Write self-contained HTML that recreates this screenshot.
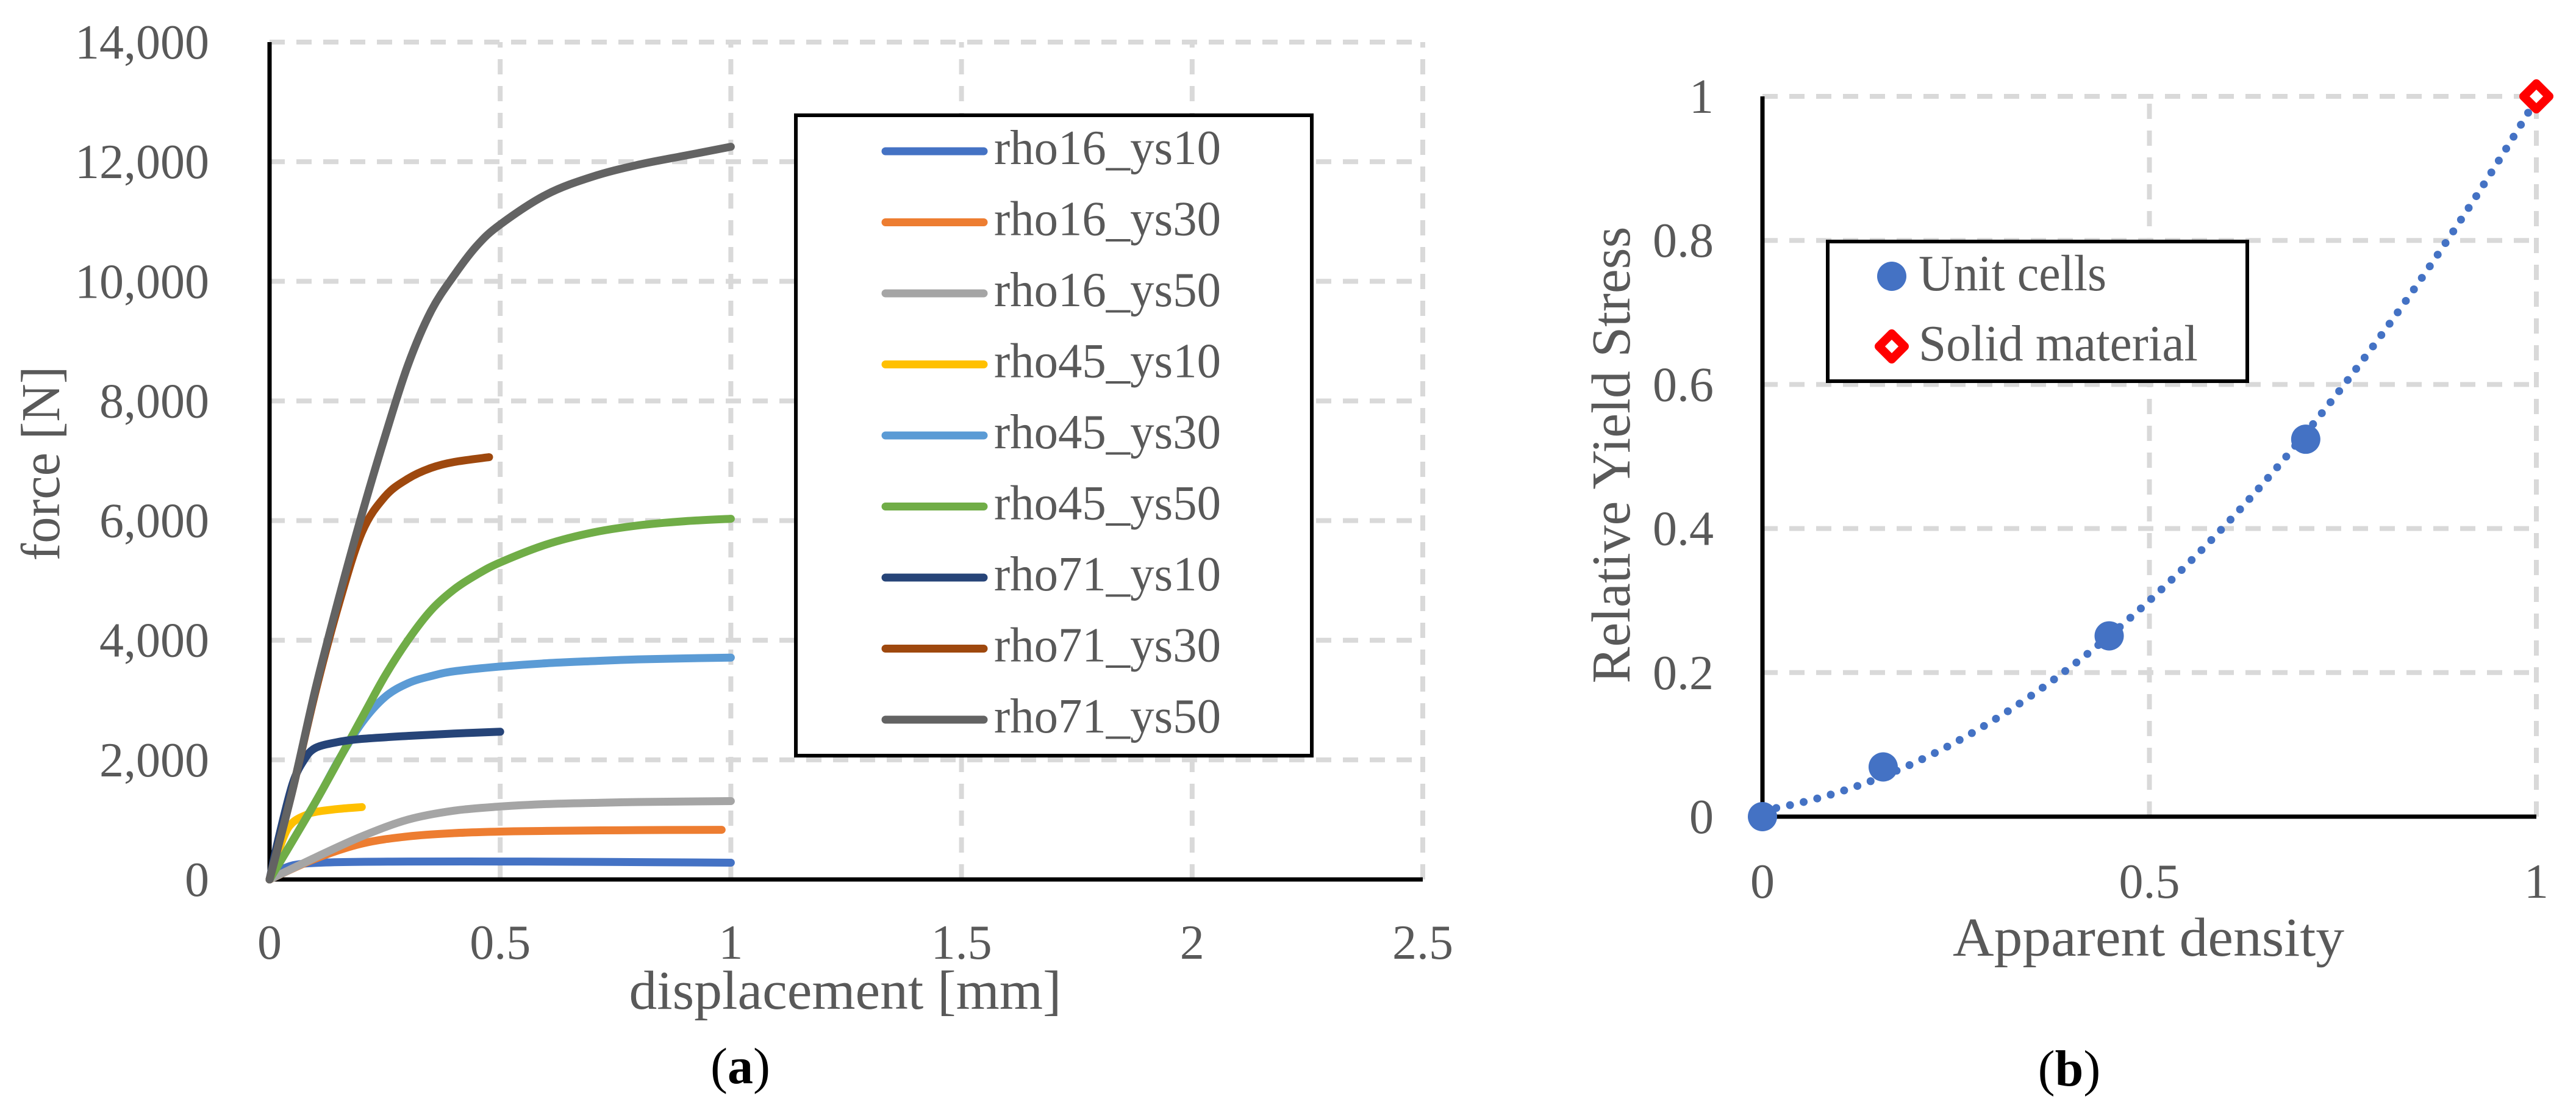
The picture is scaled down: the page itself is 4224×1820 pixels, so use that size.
<!DOCTYPE html>
<html><head><meta charset="utf-8"><style>
html,body{margin:0;padding:0;background:#fff;}
svg{display:block;}
text{font-family:"Liberation Serif",serif;fill:#595959;}
</style></head><body>
<svg id="fig" width="4224" height="1820" viewBox="0 0 4224 1820" xmlns="http://www.w3.org/2000/svg">
<g id="chartA"></g>
<g id="chartB"></g>
</svg>
<script>
// ---- Chart A data ----
const aXTicks = [0, 0.5, 1, 1.5, 2, 2.5];
const aXTickLabels = ["0", "0.5", "1", "1.5", "2", "2.5"];
const aYTicks = [0, 2000, 4000, 6000, 8000, 10000, 12000, 14000];
const aYTickLabels = ["0", "2,000", "4,000", "6,000", "8,000", "10,000", "12,000", "14,000"];
const seriesNames = ["rho16_ys10","rho16_ys30","rho16_ys50","rho45_ys10","rho45_ys30","rho45_ys50","rho71_ys10","rho71_ys30","rho71_ys50"];
const seriesColors = ["#4472c4","#ed7d31","#a5a5a5","#ffc000","#5b9bd5","#70ad47","#264478","#9e480e","#636363"];
const rho16_ys10_x = [0,0.03,0.07,0.15,0.3,0.5,0.7,1.0];
const rho16_ys10_y = [0,180,260,290,300,300,295,280];
const rho16_ys30_x = [0,0.1,0.2,0.3,0.4,0.5,0.6,0.8,0.98];
const rho16_ys30_y = [0,350,600,720,775,800,812,825,830];
const rho16_ys50_x = [0,0.1,0.2,0.3,0.4,0.5,0.6,0.7,0.8,1.0];
const rho16_ys50_y = [0,370,720,1000,1150,1220,1260,1280,1295,1310];
const rho45_ys10_x = [0,0.03,0.05,0.08,0.1,0.15,0.2];
const rho45_ys10_y = [0,700,950,1080,1130,1180,1210];
const rho45_ys30_x = [0,0.1,0.15,0.2,0.25,0.3,0.35,0.4,0.5,0.6,0.7,0.8,1.0];
const rho45_ys30_y = [0,1300,2000,2620,3050,3280,3400,3480,3560,3615,3650,3680,3710];
const rho45_ys50_x = [0,0.1,0.2,0.25,0.3,0.35,0.4,0.45,0.5,0.6,0.7,0.8,0.9,1.0];
const rho45_ys50_y = [0,1300,2700,3400,4000,4500,4850,5100,5300,5600,5800,5920,5990,6030];
const rho71_ys10_x = [0,0.02,0.05,0.075,0.1,0.15,0.2,0.3,0.4,0.5];
const rho71_ys10_y = [0,700,1600,2000,2200,2300,2350,2400,2440,2470];
const rho71_ys30_x = [0,0.05,0.1,0.15,0.2,0.25,0.3,0.35,0.4,0.476];
const rho71_ys30_y = [0,1500,3150,4600,5800,6400,6700,6880,6980,7060];
const rho71_ys50_x = [0,0.05,0.1,0.15,0.2,0.25,0.3,0.35,0.4,0.45,0.5,0.6,0.7,0.8,0.9,1.0];
const rho71_ys50_y = [0,1500,3200,4700,6100,7400,8600,9500,10100,10600,10950,11450,11750,11950,12100,12250];
const seriesX = [rho16_ys10_x,rho16_ys30_x,rho16_ys50_x,rho45_ys10_x,rho45_ys30_x,rho45_ys50_x,rho71_ys10_x,rho71_ys30_x,rho71_ys50_x];
const seriesY = [rho16_ys10_y,rho16_ys30_y,rho16_ys50_y,rho45_ys10_y,rho45_ys30_y,rho45_ys50_y,rho71_ys10_y,rho71_ys30_y,rho71_ys50_y];

// ---- Chart B data ----
const bXTicks = [0, 0.5, 1];
const bXTickLabels = ["0", "0.5", "1"];
const bYTicks = [0, 0.2, 0.4, 0.6, 0.8, 1];
const bYTickLabels = ["0", "0.2", "0.4", "0.6", "0.8", "1"];
const unitDensity = [0, 0.156, 0.448, 0.702];
const unitStress = [0, 0.069, 0.251, 0.524];
const solidDensity = [1];
const solidStress = [1];

const NS = "http://www.w3.org/2000/svg";
function mk(parent, tag, attrs, txt){
  const e = document.createElementNS(NS, tag);
  for (const k in attrs) e.setAttribute(k, attrs[k]);
  if (txt !== undefined) e.textContent = txt;
  parent.appendChild(e);
  return e;
}
function smoothPath(pts){
  if (pts.length < 3) return pts.map((p, i) => (i ? 'L' : 'M') + p[0].toFixed(1) + ' ' + p[1].toFixed(1)).join(' ');
  let d = 'M' + pts[0][0].toFixed(1) + ' ' + pts[0][1].toFixed(1);
  for (let i = 0; i < pts.length - 1; i++) {
    const p0 = pts[Math.max(0, i - 1)], p1 = pts[i], p2 = pts[i + 1], p3 = pts[Math.min(pts.length - 1, i + 2)];
    const t = 1 / 6;
    const c1x = p1[0] + (p2[0] - p0[0]) * t, c1y = p1[1] + (p2[1] - p0[1]) * t;
    const c2x = p2[0] - (p3[0] - p1[0]) * t, c2y = p2[1] - (p3[1] - p1[1]) * t;
    d += ' C' + c1x.toFixed(1) + ' ' + c1y.toFixed(1) + ' ' + c2x.toFixed(1) + ' ' + c2y.toFixed(1) + ' ' + p2[0].toFixed(1) + ' ' + p2[1].toFixed(1);
  }
  return d;
}

// ===== Chart A =====
const A = document.getElementById('chartA');
const ax = v => 442 + v * (2333 - 442) / 2.5;
const ay = v => 1442 - v * (1442 - 69) / 14000;
aYTicks.forEach((t, i) => {
  if (t > 0) {
    const g = mk(A, 'line', {x1: ax(0), x2: ax(2.5), y1: ay(t), y2: ay(t), stroke: '#d9d9d9', 'stroke-width': 8, 'stroke-dasharray': '25 19'});
    
    
  }
  const l = mk(A, 'text', {x: 343, y: ay(t) + 27, 'font-size': 80, 'text-anchor': 'end'}, aYTickLabels[i]);
  
  
});
aXTicks.forEach((t, i) => {
  if (t > 0) {
    const g = mk(A, 'line', {x1: ax(t), x2: ax(t), y1: ay(0), y2: ay(14000), stroke: '#d9d9d9', 'stroke-width': 8, 'stroke-dasharray': '25 19'});
    
    
  }
  const l = mk(A, 'text', {x: ax(t), y: 1572, 'font-size': 80, 'text-anchor': 'middle'}, aXTickLabels[i]);
  
  
});
const aAxY = mk(A, 'line', {x1: ax(0), x2: ax(0), y1: ay(0) + 3, y2: ay(14000), stroke: '#000', 'stroke-width': 7});


const aAxX = mk(A, 'line', {x1: ax(0) - 3, x2: ax(2.5), y1: ay(0), y2: ay(0), stroke: '#000', 'stroke-width': 7});


seriesNames.forEach((n, i) => {
  const pts = seriesX[i].map((x, j) => [ax(x), ay(seriesY[i][j])]);
  const p = mk(A, 'path', {d: smoothPath(pts), fill: 'none', stroke: seriesColors[i], 'stroke-width': 13, 'stroke-linecap': 'round', 'stroke-linejoin': 'round'});
  
  
});
// legend A
const legA = mk(A, 'g', {});


mk(legA, 'rect', {x: 1305, y: 189, width: 846, height: 1050, fill: '#fff', stroke: '#000', 'stroke-width': 6});
seriesNames.forEach((n, i) => {
  const cy = 248 + i * 116.5;
  const e = mk(legA, 'g', {});
  
  
  mk(e, 'line', {x1: 1452, x2: 1613, y1: cy, y2: cy, stroke: seriesColors[i], 'stroke-width': 13, 'stroke-linecap': 'round'});
  mk(e, 'text', {x: 1630, y: cy + 21, 'font-size': 80, textLength: 372, lengthAdjust: 'spacingAndGlyphs'}, n);
});
const aXT = mk(A, 'text', {x: 1386, y: 1654, 'font-size': 90, 'text-anchor': 'middle', textLength: 709, lengthAdjust: 'spacingAndGlyphs'}, 'displacement [mm]');


const aYT = mk(A, 'text', {x: 0, y: 0, 'font-size': 90, 'text-anchor': 'middle', transform: 'translate(97,760) rotate(-90)', textLength: 319, lengthAdjust: 'spacingAndGlyphs'}, 'force [N]');


const capA = mk(A, 'text', {x: 1214, y: 1776, 'font-size': 84, 'text-anchor': 'middle', fill: '#000'});


mk(capA, 'tspan', {fill: '#000'}, '(');
mk(capA, 'tspan', {fill: '#000', 'font-weight': 'bold'}, 'a');
mk(capA, 'tspan', {fill: '#000'}, ')');

// ===== Chart B =====
const B = document.getElementById('chartB');
const bx = v => 2890 + v * (4159 - 2890);
const by = v => 1339 - v * (1339 - 158);
bYTicks.forEach((t, i) => {
  if (t > 0) {
    const g = mk(B, 'line', {x1: bx(0), x2: bx(1), y1: by(t), y2: by(t), stroke: '#d9d9d9', 'stroke-width': 8, 'stroke-dasharray': '25 19'});
    
    
  }
  const l = mk(B, 'text', {x: 2810, y: by(t) + 27, 'font-size': 80, 'text-anchor': 'end'}, bYTickLabels[i]);
  
  
});
bXTicks.forEach((t, i) => {
  if (t > 0) {
    const g = mk(B, 'line', {x1: bx(t), x2: bx(t), y1: by(0), y2: by(1), stroke: '#d9d9d9', 'stroke-width': 8, 'stroke-dasharray': '25 19'});
    
    
  }
  const l = mk(B, 'text', {x: bx(t), y: 1472, 'font-size': 80, 'text-anchor': 'middle'}, bXTickLabels[i]);
  
  
});
const bAxY = mk(B, 'line', {x1: bx(0), x2: bx(0), y1: by(0) + 3, y2: by(1), stroke: '#000', 'stroke-width': 7});


const bAxX = mk(B, 'line', {x1: bx(0) - 3, x2: bx(1), y1: by(0), y2: by(0), stroke: '#000', 'stroke-width': 7});


// quadratic least-squares trendline over all points
(function(){
  const xs = unitDensity.concat(solidDensity), ys = unitStress.concat(solidStress);
  let S = [0,0,0,0,0], T = [0,0,0];
  xs.forEach((x, i) => { for (let k = 0; k < 5; k++) S[k] += Math.pow(x, k); for (let k = 0; k < 3; k++) T[k] += ys[i] * Math.pow(x, k); });
  const M = [[S[0],S[1],S[2],T[0]],[S[1],S[2],S[3],T[1]],[S[2],S[3],S[4],T[2]]];
  for (let c = 0; c < 3; c++) { for (let r = c + 1; r < 3; r++) { const f = M[r][c] / M[c][c]; for (let k = c; k < 4; k++) M[r][k] -= f * M[c][k]; } }
  const co = [0,0,0];
  for (let r = 2; r >= 0; r--) { let s = M[r][3]; for (let k = r + 1; k < 3; k++) s -= M[r][k] * co[k]; co[r] = s / M[r][r]; }
  let d = '';
  for (let i = 0; i <= 100; i++) { const x = i / 100; const y = co[0] + co[1] * x + co[2] * x * x; d += (i ? 'L' : 'M') + bx(x).toFixed(1) + ' ' + by(y).toFixed(1) + ' '; }
  const p = mk(B, 'path', {d: d, fill: 'none', stroke: '#4472c4', 'stroke-width': 13, 'stroke-linecap': 'round', 'stroke-dasharray': '0 23'});
  
  
})();
unitDensity.forEach((x, i) => {
  const c = mk(B, 'circle', {cx: bx(x), cy: by(unitStress[i]), r: 24, fill: '#4472c4'});
  
  
});
solidDensity.forEach((x, i) => {
  const cx = bx(x), cy = by(solidStress[i]);
  const p = mk(B, 'path', {d: `M${cx} ${cy-21} L${cx+21} ${cy} L${cx} ${cy+21} L${cx-21} ${cy} Z`, fill: '#fff', stroke: '#ff0000', 'stroke-width': 14, 'stroke-linejoin': 'round'});
  
  
});
// legend B
const legB = mk(B, 'g', {});


mk(legB, 'rect', {x: 2997, y: 396, width: 688, height: 229, fill: '#fff', stroke: '#000', 'stroke-width': 6});
const lb1 = mk(legB, 'g', {});


mk(lb1, 'circle', {cx: 3102, cy: 453, r: 24, fill: '#4472c4'});
mk(lb1, 'text', {x: 3146, y: 476, 'font-size': 84, textLength: 308, lengthAdjust: 'spacingAndGlyphs'}, 'Unit cells');
const lb2 = mk(legB, 'g', {});


mk(lb2, 'path', {d: 'M3102 547 L3123 568 L3102 589 L3081 568 Z', fill: '#fff', stroke: '#ff0000', 'stroke-width': 14, 'stroke-linejoin': 'round'});
mk(lb2, 'text', {x: 3146, y: 591, 'font-size': 84, textLength: 458, lengthAdjust: 'spacingAndGlyphs'}, 'Solid material');
const bXT = mk(B, 'text', {x: 3523, y: 1567, 'font-size': 90, 'text-anchor': 'middle', textLength: 642, lengthAdjust: 'spacingAndGlyphs'}, 'Apparent density');


const bYT = mk(B, 'text', {x: 0, y: 0, 'font-size': 90, 'text-anchor': 'middle', transform: 'translate(2672,746) rotate(-90)', textLength: 749, lengthAdjust: 'spacingAndGlyphs'}, 'Relative Yield Stress');


const capB = mk(B, 'text', {x: 3393, y: 1780, 'font-size': 84, 'text-anchor': 'middle', fill: '#000'});


mk(capB, 'tspan', {fill: '#000'}, '(');
mk(capB, 'tspan', {fill: '#000', 'font-weight': 'bold'}, 'b');
mk(capB, 'tspan', {fill: '#000'}, ')');
</script>
</body></html>
